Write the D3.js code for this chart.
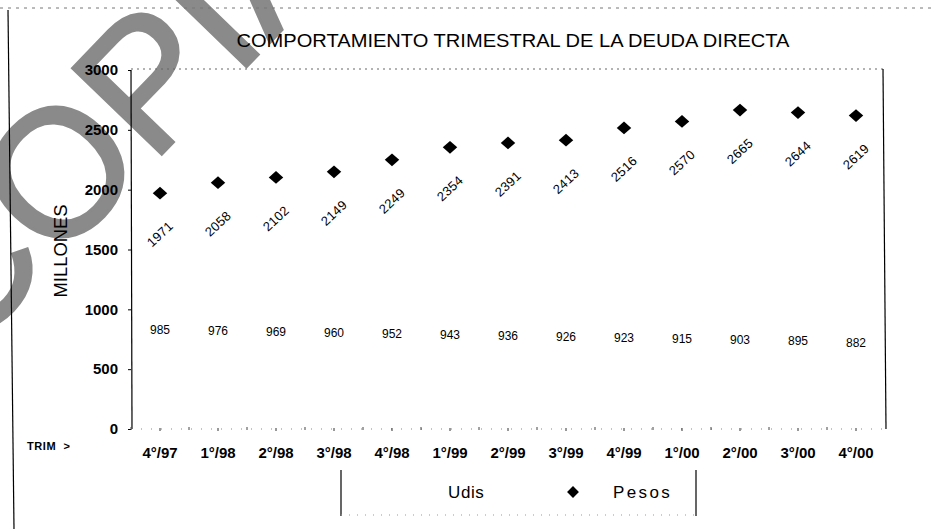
<!DOCTYPE html>
<html>
<head>
<meta charset="utf-8">
<script src="https://cdn.jsdelivr.net/npm/d3@7"></script>
<style>
  html, body { margin: 0; padding: 0; background: #fff; }
  svg { display: block; }
  text { font-family: "Liberation Sans", Arial, sans-serif; fill: #000; }
</style>
</head>
<body>
<script>
// ---- data ----
const categories = ["4°/97","1°/98","2°/98","3°/98","4°/98","1°/99","2°/99","3°/99","4°/99","1°/00","2°/00","3°/00","4°/00"];
const pesos = [1971, 2058, 2102, 2149, 2249, 2354, 2391, 2413, 2516, 2570, 2665, 2644, 2619];
const udis  = [985, 976, 969, 960, 952, 943, 936, 926, 923, 915, 903, 895, 882];
const yTicks = [0, 500, 1000, 1500, 2000, 2500, 3000];
const seriesNames = ["Udis", "Pesos"];
const titleText = "COMPORTAMIENTO TRIMESTRAL DE LA DEUDA DIRECTA";
const yLabel = "MILLONES";
const xLead = "TRIM  >";

const W = 932, H = 529;
const svg = d3.select("body").append("svg").attr("width", W).attr("height", H);

// watermark (drawn beneath everything), clipped to the page
svg.append("clipPath").attr("id", "page").append("rect").attr("width", W).attr("height", H);
svg.append("g").attr("clip-path", "url(#page)")
  .append("text")
  .attr("transform", "translate(-36,359) rotate(-46)")
  .style("font-size", "180px")
  .style("fill", "#8a8a8a")
  .style("stroke", "#8a8a8a").style("stroke-width", "3px")
  .text("COPIA");

// outer page frame lines
svg.append("line").attr("x1", 0).attr("y1", 8).attr("x2", W).attr("y2", 8)
  .attr("stroke", "#777").attr("stroke-width", 1).attr("stroke-dasharray", "3,5");
svg.append("line").attr("x1", 8).attr("y1", 10).attr("x2", 14).attr("y2", H)
  .attr("stroke", "#000").attr("stroke-width", 1.2);

// scales
const plot = { left: 131, right: 885, top: 70, bottom: 429 };
const x = d3.scaleBand().domain(categories).range([plot.left, plot.right]).padding(0);
const y = d3.scaleLinear().domain([0, 3000]).range([plot.bottom, plot.top]);
const cx = d => x(d) + x.bandwidth() / 2;

// title
svg.append("text")
  .attr("x", 513).attr("y", 47)
  .attr("text-anchor", "middle")
  .attr("textLength", 553).attr("lengthAdjust", "spacingAndGlyphs")
  .style("font-size", "19px")
  .text(titleText);

// plot frame: dotted top, solid right, solid left axis
svg.append("line").attr("x1", plot.left).attr("y1", plot.top - 1).attr("x2", plot.right - 2).attr("y2", plot.top - 1)
  .attr("stroke", "#666").attr("stroke-dasharray", "2,4");
svg.append("line").attr("x1", plot.right - 2).attr("y1", plot.top - 1).attr("x2", plot.right + 1).attr("y2", plot.bottom)
  .attr("stroke", "#000").attr("stroke-width", 1.2);
svg.append("line").attr("x1", plot.left).attr("y1", plot.top).attr("x2", plot.left + 1).attr("y2", plot.bottom)
  .attr("stroke", "#000").attr("stroke-width", 1.2);

// y axis
const yAxis = svg.append("g").attr("transform", `translate(${plot.left},0)`)
  .call(d3.axisLeft(y).tickValues(yTicks).tickSize(3).tickPadding(10).tickFormat(d3.format("d")));
yAxis.select(".domain").remove();
yAxis.selectAll("text").style("font-size", "15px").style("font-weight", "bold")
  .style("font-family", "'Liberation Sans', Arial, sans-serif");

// y label
svg.append("text")
  .attr("transform", "translate(67,251) rotate(-90)")
  .attr("text-anchor", "middle")
  .attr("textLength", 93).attr("lengthAdjust", "spacingAndGlyphs")
  .style("font-size", "19px")
  .text(yLabel);

// x axis baseline (dotted) and small marks
svg.append("line").attr("x1", plot.left).attr("y1", plot.bottom).attr("x2", plot.right).attr("y2", plot.bottom)
  .attr("stroke", "#888").attr("stroke-dasharray", "1,9");
const xAxis = svg.append("g").attr("transform", `translate(0,${plot.bottom})`)
  .call(d3.axisBottom(x).tickSize(3).tickPadding(15));
xAxis.select(".domain").remove();
xAxis.selectAll(".tick line").attr("stroke", "#333").attr("transform", "translate(0,-1)");
xAxis.selectAll("text").style("font-size", "15px").style("font-weight", "bold")
  .style("font-family", "'Liberation Sans', Arial, sans-serif");
svg.append("g").selectAll("line").data(categories).join("line")
  .attr("x1", d => x(d)).attr("x2", d => x(d))
  .attr("y1", plot.bottom - 2).attr("y2", plot.bottom + 1)
  .attr("stroke", "#444");

svg.append("text").attr("x", 27).attr("y", 450)
  .style("font-size", "11px").style("font-weight", "bold").style("letter-spacing", "0.6px")
  .attr("xml:space", "preserve")
  .text(xLead);

// Pesos diamonds
const diamond = d3.symbol().type(d3.symbolSquare).size(105);
svg.append("g").selectAll("path").data(categories).join("path")
  .attr("d", diamond)
  .attr("transform", (d, i) => `translate(${cx(d)},${y(pesos[i])}) scale(1,0.88) rotate(45)`)
  .attr("fill", "#000");

// Pesos labels (rotated)
svg.append("g").selectAll("text").data(categories).join("text")
  .attr("transform", (d, i) => `translate(${cx(d)},${y(pesos[i]) + 41}) rotate(-43)`)
  .attr("text-anchor", "middle").attr("dy", "0.35em")
  .style("font-size", "13px").style("letter-spacing", "0.3px")
  .text((d, i) => pesos[i]);

// Udis labels (series markers not visible in reference)
svg.append("g").selectAll("text").data(categories).join("text")
  .attr("x", d => cx(d))
  .attr("y", (d, i) => y(udis[i]) + 19)
  .attr("text-anchor", "middle").attr("dy", "0.35em")
  .style("font-size", "12px")
  .text((d, i) => udis[i]);

// legend
const lg = svg.append("g");
lg.append("line").attr("x1", 341).attr("y1", 470).attr("x2", 341).attr("y2", 516).attr("stroke", "#000").attr("stroke-width", 1.2);
lg.append("line").attr("x1", 696).attr("y1", 470).attr("x2", 696).attr("y2", 516).attr("stroke", "#000").attr("stroke-width", 1.2);
lg.append("line").attr("x1", 341).attr("y1", 515).attr("x2", 696).attr("y2", 515)
  .attr("stroke", "#999").attr("stroke-dasharray", "1,7");
lg.append("text").attr("x", 448).attr("y", 498)
  .style("font-size", "17px").style("letter-spacing", "0.6px").text(seriesNames[0]);
lg.append("path").attr("d", d3.symbol().type(d3.symbolSquare).size(70))
  .attr("transform", "translate(573,492) rotate(45)").attr("fill", "#000");
lg.append("text").attr("x", 613).attr("y", 498)
  .style("font-size", "17px").style("letter-spacing", "2.4px").text(seriesNames[1]);
</script>
</body>
</html>
